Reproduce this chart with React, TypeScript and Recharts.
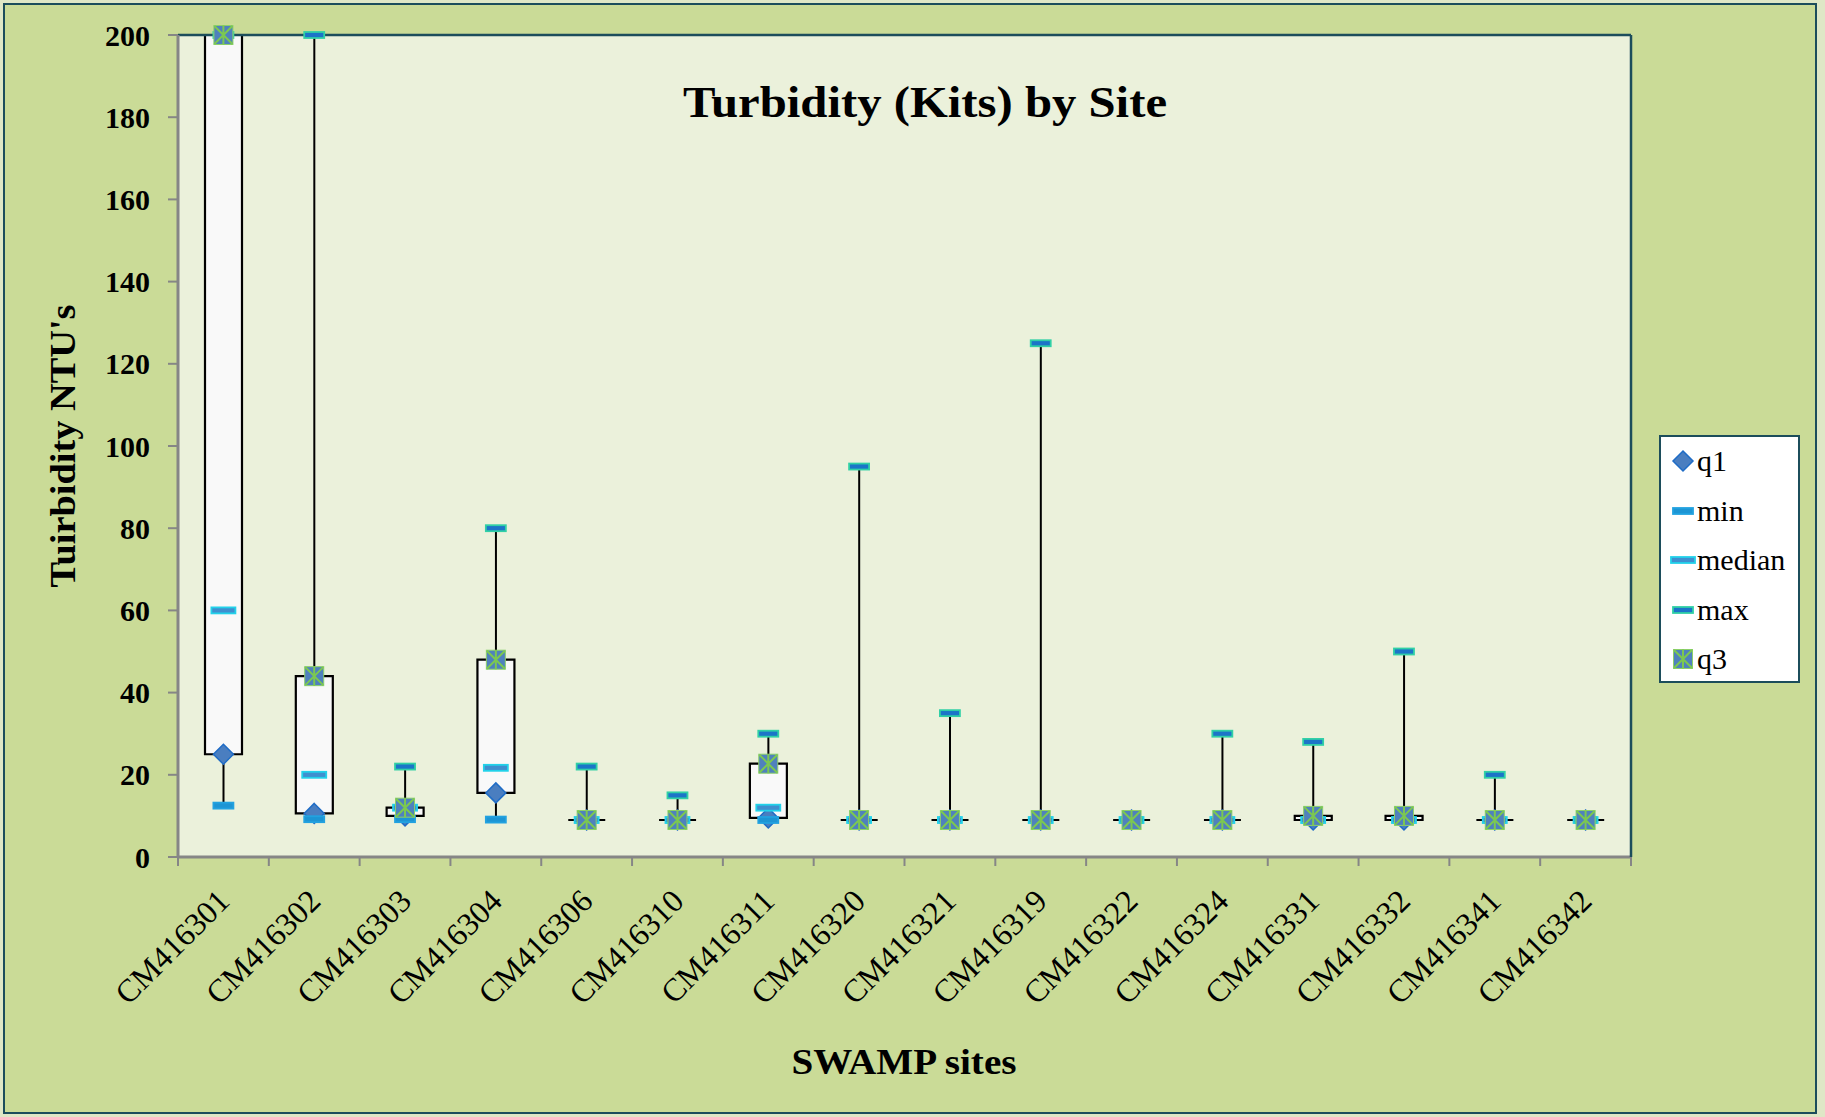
import React from "react"
import { ComposedChart, Bar, Scatter, XAxis, YAxis, CartesianGrid, ReferenceLine } from "recharts"

const sites = [
  "CM416301", "CM416302", "CM416303", "CM416304", "CM416306", "CM416310", "CM416311", "CM416320",
  "CM416321", "CM416319", "CM416322", "CM416324", "CM416331", "CM416332", "CM416341", "CM416342",
]
const minValues = [12.5, 9.2, 9.2, 9.1, 9, 9, 9, 9, 9, 9, 9, 9, 9, 9, 9, 9]
const q1Values = [25, 10.6, 10, 15.6, 9, 9, 9.5, 9, 9, 9, 9, 9, 9, 9, 9, 9]
const medianValues = [60, 20, 12, 21.7, 9, 9, 12, 9, 9, 9, 9, 9, 9, 9, 9, 9]
const maxValues = [200, 200, 22, 80, 22, 15, 30, 95, 35, 125, 9, 30, 28, 50, 20, 9]
const q3Values = [200, 44, 12, 48, 9, 9, 22.7, 9, 9, 9, 9, 9, 10, 10, 9, 9]
const yTicks = [0, 20, 40, 60, 80, 100, 120, 140, 160, 180, 200]

const data = sites.map((site, i) => ({
  site,
  min: minValues[i],
  q1: q1Values[i],
  median: medianValues[i],
  max: maxValues[i],
  q3: q3Values[i],
}))

const FONT = "'Liberation Serif', 'DejaVu Serif', serif"
const FRAME = "#1c4d5b"
const AXIS_GRAY = "#868686"

const W = 1825
const H = 1117
const PLOT_LEFT = 178
const PLOT_RIGHT = 1631
const PLOT_TOP = 35
const PLOT_BOTTOM = 857
const BAND = (PLOT_RIGHT - PLOT_LEFT) / sites.length

// box + whiskers drawn from the range bar [min, max]
const BoxShape = (props: any) => {
  const { x, y, width, height, payload } = props
  const top = Math.min(y, y + height)
  const h = Math.abs(height)
  const lo = payload.min
  const hi = payload.max
  const k = hi > lo ? h / (hi - lo) : 0
  const py = (v: number) => top + (hi - v) * k
  const cx = x + width / 2
  const y1 = py(payload.q1)
  const y3 = py(payload.q3)
  return (
    <g>
      <line x1={cx} x2={cx} y1={py(hi)} y2={y3} stroke="#000" strokeWidth={2} />
      <line x1={cx} x2={cx} y1={y1} y2={py(lo)} stroke="#000" strokeWidth={2} />
      <path d={`M${x},${y3}H${x + width}V${y1}H${x}Z`} fill="#f9f9f9" stroke="#000" strokeWidth={2.2} />
    </g>
  )
}

const Diamond = ({ cx, cy }: any) => (
  <path
    d={`M${cx},${cy - 10}L${cx + 10},${cy}L${cx},${cy + 10}L${cx - 10},${cy}Z`}
    fill="#4a7ec0"
    stroke="#1f6cc6"
    strokeWidth={1.5}
  />
)

const dash = (fill: string, stroke: string, w: number) => ({ cx, cy }: any) => (
  <rect x={cx - w / 2} y={cy - 3} width={w} height={6} fill={fill} stroke={stroke} strokeWidth={1.8} />
)
const MinDash = dash("#1d95d4", "#22a2e0", 20)
const MedianDash = dash("#3f8fcf", "#22d2ea", 24)
const MaxDash = dash("#1c74c8", "#30d0a6", 20)

const Star = ({ cx, cy }: any) => (
  <g>
    <rect x={cx - 9.5} y={cy - 9.5} width={19} height={19} fill="#4f81bd" stroke="#8cd06a" strokeWidth={1} />
    <path
      d={`M${cx - 9},${cy - 9}L${cx + 9},${cy + 9}M${cx + 9},${cy - 9}L${cx - 9},${cy + 9}M${cx},${cy - 9.5}V${cy + 9.5}`}
      stroke="#7cc850"
      strokeWidth={2}
    />
  </g>
)

const series = [
  { key: "q1", shape: Diamond },
  { key: "min", shape: MinDash },
  { key: "median", shape: MedianDash },
  { key: "max", shape: MaxDash },
  { key: "q3", shape: Star },
]

const XTick = ({ x, y, payload, index }: any) => (
  <g>
    <line x1={x - BAND / 2} x2={x - BAND / 2} y1={y} y2={y + 9} stroke={AXIS_GRAY} strokeWidth={2} />
    {index === sites.length - 1 && (
      <line x1={x + BAND / 2} x2={x + BAND / 2} y1={y} y2={y + 9} stroke={AXIS_GRAY} strokeWidth={2} />
    )}
    <text
      x={x + 8}
      y={y + 46}
      textAnchor="end"
      transform={`rotate(-45, ${x + 8}, ${y + 46})`}
      fontFamily={FONT}
      fontSize={32}
      fill="#000"
    >
      {payload.value}
    </text>
  </g>
)

function Legend() {
  return (
    <div
      style={{
        position: "absolute",
        left: 1659,
        top: 435,
        width: 141,
        height: 248,
        boxSizing: "border-box",
        background: "#fff",
        border: `2.5px solid ${FRAME}`,
      }}
    >
      {series.map((s, i) => {
        const Shape = s.shape
        return (
          <div
            key={s.key}
            style={{ position: "absolute", left: 0, top: 7 + i * 49.5, height: 34, display: "flex", alignItems: "center" }}
          >
            <svg width={36} height={34} style={{ display: "block" }}>
              <Shape cx={22} cy={17} />
            </svg>
            <span style={{ fontFamily: FONT, fontSize: 30, marginLeft: 0, lineHeight: "34px" }}>{s.key}</span>
          </div>
        )
      })}
    </div>
  )
}

export default function App() {
  return (
    <div style={{ position: "absolute", left: 0, top: 0, width: W, height: H, background: "#dfe7c6" }}>
      <div
        style={{
          position: "absolute",
          left: 3,
          top: 3,
          width: 1814,
          height: 1111,
          boxSizing: "border-box",
          background: "#cadb97",
          border: `2px solid ${FRAME}`,
        }}
      />
      <div style={{ position: "absolute", left: 0, top: 0 }}>
        <ComposedChart
          width={W}
          height={H}
          data={data}
          margin={{ top: PLOT_TOP, right: W - PLOT_RIGHT - 1, left: PLOT_LEFT - 100, bottom: H - PLOT_BOTTOM - 160 }}
        >
          <CartesianGrid vertical={false} fill="#ebf1db" stroke="#8c8c8c" strokeWidth={2} />
          <XAxis
            dataKey="site"
            height={160}
            interval={0}
            tickLine={false}
            tickSize={0}
            tickMargin={0}
            axisLine={{ stroke: AXIS_GRAY, strokeWidth: 3 }}
            tick={<XTick />}
          />
          <YAxis
            yAxisId="left"
            width={100}
            domain={[0, 200]}
            ticks={yTicks}
            interval={0}
            tickSize={10}
            tickMargin={18}
            tickLine={{ stroke: AXIS_GRAY, strokeWidth: 2 }}
            axisLine={{ stroke: AXIS_GRAY, strokeWidth: 3 }}
            tick={{ fontFamily: FONT, fontSize: 30, fontWeight: "bold", fill: "#000" }}
          />
          <YAxis
            yAxisId="right"
            orientation="right"
            width={1}
            domain={[0, 200]}
            tick={false}
            tickLine={false}
            axisLine={{ stroke: FRAME, strokeWidth: 2.5 }}
          />
          <ReferenceLine yAxisId="left" y={200} stroke={FRAME} strokeWidth={2.5} />
          <Bar
            yAxisId="left"
            dataKey={(d: any) => [d.min, d.max]}
            barSize={37}
            shape={<BoxShape />}
            legendType="none"
            isAnimationActive={false}
          />
          {series.map((s) => (
            <Scatter
              key={s.key}
              yAxisId="left"
              dataKey={s.key}
              name={s.key}
              shape={s.shape}
              isAnimationActive={false}
            />
          ))}
        </ComposedChart>
      </div>
      <svg width={W} height={H} style={{ position: "absolute", left: 0, top: 0, pointerEvents: "none" }}>
        <text x={925} y={117} textAnchor="middle" fontFamily={FONT} fontWeight="bold" fontSize={44} textLength={484} lengthAdjust="spacingAndGlyphs">
          Turbidity (Kits) by Site
        </text>
        <text
          x={75}
          y={446}
          textAnchor="middle"
          transform="rotate(-90, 75, 446)"
          fontFamily={FONT}
          fontWeight="bold"
          fontSize={35}
          textLength={283}
          lengthAdjust="spacingAndGlyphs"
        >
          Tuirbidity NTU's
        </text>
        <text x={904} y={1074} textAnchor="middle" fontFamily={FONT} fontWeight="bold" fontSize={36} textLength={225} lengthAdjust="spacingAndGlyphs">
          SWAMP sites
        </text>
      </svg>
      <Legend />
    </div>
  )
}
